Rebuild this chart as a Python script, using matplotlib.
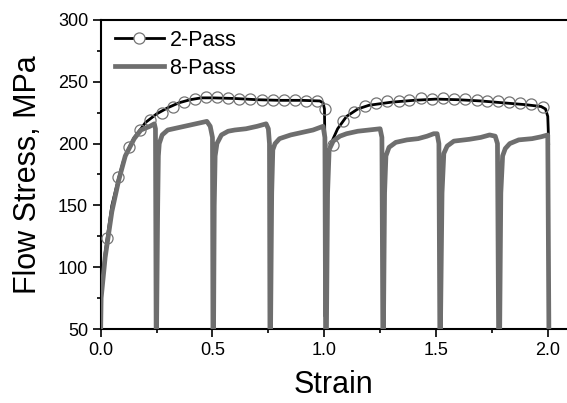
import numpy as np
import matplotlib.pyplot as plt
from matplotlib.lines import Line2D

plt.rcParams['font.family'] = ['Liberation Sans', 'DejaVu Sans']

# 2-Pass: continuous curve (black line)
pass2_x = [0.0, 0.01, 0.02, 0.03, 0.05, 0.08, 0.10, 0.13, 0.15, 0.18, 0.20, 0.25, 0.30,
           0.35, 0.40, 0.45, 0.50, 0.60, 0.70, 0.80, 0.90, 0.98, 0.995, 1.001, 1.003,
           1.004, 1.006, 1.01, 1.03, 1.06, 1.10, 1.15, 1.20, 1.30, 1.40, 1.50, 1.60,
           1.70, 1.80, 1.90, 1.97, 1.99, 2.0, 2.002, 2.004]
pass2_y = [76, 95, 112, 125, 150, 172, 185, 198, 205, 212, 217, 224, 229,
           233, 235.5, 237, 237, 236.5, 235.5, 235, 235, 234.5, 233, 228, 200,
           60, 150, 185, 200, 212, 222, 228, 231, 233.5, 235, 236, 235.5,
           234.5, 233, 231.5, 230, 228, 222, 212, 200]

# 2-Pass: open circle markers
pass2_mx = [0.028, 0.076, 0.127, 0.177, 0.222, 0.273, 0.323, 0.371, 0.422, 0.471, 0.52,
            0.57, 0.62, 0.67, 0.72, 0.77, 0.82, 0.87, 0.92, 0.968, 1.003,
            1.037, 1.085, 1.133, 1.183, 1.231, 1.282, 1.333, 1.380, 1.431, 1.482,
            1.532, 1.580, 1.631, 1.682, 1.729, 1.777, 1.827, 1.875, 1.926, 1.977]
pass2_my = [124, 173, 197.5, 211, 219, 225, 229.4, 233.7, 236.3, 237.4, 237.4,
            236.5, 236, 235.8, 235.5, 235.3, 235, 235, 234.8, 234.7, 228,
            198.9, 218.5, 225.8, 230.4, 232.6, 234.2, 234.7, 235.3, 236.6, 235.8,
            236.6, 235.8, 235.8, 235.3, 234.7, 234.2, 233.6, 232.6, 232, 229.8]

# 8-Pass
pass8_x = [0.0, 0.002, 0.02, 0.05, 0.08, 0.11, 0.15, 0.18, 0.22, 0.24, 0.245, 0.248,
           0.25, 0.255, 0.258, 0.262, 0.275, 0.30, 0.35, 0.40, 0.45, 0.475, 0.49, 0.50, 0.502,
           0.505, 0.508, 0.512, 0.52, 0.54, 0.57, 0.60, 0.65, 0.70, 0.74, 0.75, 0.755, 0.757,
           0.76, 0.765, 0.77, 0.78, 0.80, 0.85, 0.90, 0.95, 0.995, 1.003, 1.006,
           1.01, 1.015, 1.022, 1.04, 1.07, 1.10, 1.15, 1.20, 1.25, 1.258, 1.262,
           1.265, 1.27, 1.276, 1.29, 1.32, 1.37, 1.42, 1.46, 1.49, 1.505, 1.513, 1.517,
           1.52, 1.527, 1.535, 1.55, 1.58, 1.65, 1.70, 1.74, 1.765, 1.775, 1.78,
           1.785, 1.79, 1.798, 1.81, 1.83, 1.87, 1.93, 1.97, 2.0, 2.005]
pass8_y = [50, 75, 108, 145, 170, 190, 204, 211, 214, 216, 212, 50,
           50, 150, 190, 200, 207, 211, 213, 215, 217, 218, 214, 205, 50,
           50, 150, 190, 200, 207, 210, 211, 212, 214, 216, 212, 200, 50,
           50, 160, 195, 200, 204, 207, 209, 211, 214, 205, 50,
           50, 160, 195, 202, 206, 208, 210, 211, 212, 205, 50,
           50, 160, 190, 197, 201, 203, 204, 206, 208, 208, 200, 50,
           50, 160, 192, 198, 202, 203.5, 205, 207, 206, 200, 50,
           50, 160, 190, 196, 200, 203, 204, 205.5, 207, 50]

fig = plt.figure(figsize=(5.67, 4.03), dpi=100)
ax = fig.add_axes([0.1776, 0.1836, 0.8204, 0.7668])

ax.plot(pass2_x, pass2_y, color="black", lw=2.0, zorder=2)
ax.plot(pass8_x, pass8_y, color="#6e6e6e", lw=3.4, zorder=3, solid_joinstyle="round")
ax.plot(pass2_mx, pass2_my, ls="none", marker="o", ms=8, mfc="none",
        mec="#747474", mew=0.9, zorder=4)

h2 = Line2D([], [], color="black", lw=2.0, marker="o", ms=8, mfc="white",
            mec="#747474", mew=0.9)
h8 = Line2D([], [], color="#6e6e6e", lw=3.4)
ax.legend([h2, h8], ["2-Pass", "8-Pass"], loc="upper left", bbox_to_anchor=(0.03, 0.968),
          frameon=False, fontsize=15.5, handlelength=2.3, handletextpad=0.25,
          labelspacing=0.32, borderpad=0, borderaxespad=0)

ax.set_xlim(0, 2.081)
ax.set_ylim(50, 300)
ax.set_xticks(np.arange(0, 2.01, 0.5))
ax.set_xticks(np.arange(0.25, 2.0, 0.5), minor=True)
ax.set_yticks(np.arange(50, 301, 50))
ax.set_yticks(np.arange(75, 300, 50), minor=True)
ax.set_xticklabels(["0.0", "0.5", "1.0", "1.5", "2.0"])
ax.tick_params(which="major", length=6, width=1.2, labelsize=13, pad=3)
ax.tick_params(which="minor", length=3, width=1.2)
ax.spines["right"].set_visible(False)
for s in ["left", "bottom", "top"]:
  ax.spines[s].set_linewidth(1.5)

ax.set_xlabel("Strain", fontsize=22, labelpad=8)
ax.set_ylabel("Flow Stress, MPa", fontsize=22, labelpad=11)

fig.savefig("out.png", dpi=100)
